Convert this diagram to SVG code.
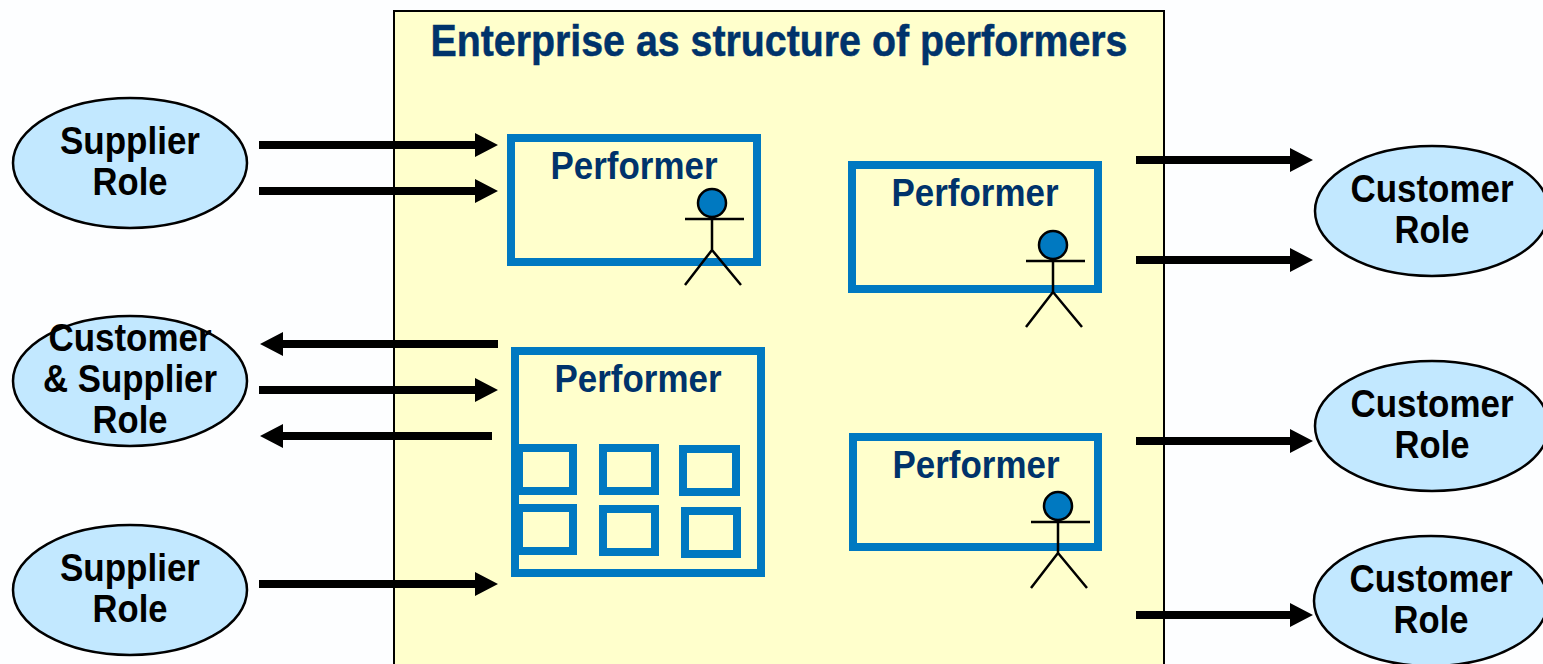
<svg xmlns="http://www.w3.org/2000/svg" width="1543" height="664" viewBox="0 0 1543 664">
<style>
.t{font-family:"Liberation Sans",Arial,sans-serif;font-weight:700;text-anchor:middle}
.role{font-size:38px;fill:#000}
.perf{font-size:38px;fill:#00336b}
.el{fill:#c2e8ff;stroke:#000;stroke-width:2.5}
.box{fill:none;stroke:#0079c1;stroke-width:8}
.sb{fill:none;stroke:#0079c1;stroke-width:8}
.arrow{fill:none;stroke:#000;stroke-width:8}
.fig{fill:none;stroke:#000;stroke-width:2.5}
.head{fill:#0079c1;stroke:#000;stroke-width:2.5}
</style>
<rect width="1543" height="664" fill="#fdfeff"/>
<g id="enterprise"><rect x="394" y="11" width="770" height="670" fill="#ffffcc" stroke="#000" stroke-width="2"/>
<text class="t" x="779" y="56" font-size="44" fill="#00336b" stroke="#00336b" stroke-width="0.5" textLength="697" lengthAdjust="spacingAndGlyphs">Enterprise as structure of performers</text></g>
<g id="connectors">
<path class="arrow" d="M259 145H476M259 191H476M498 344H282M259 390H476M492 436H282M259 584H476M1136 160H1291M1136 260H1291M1136 441H1291M1136 615H1291"/>
<path d="M498 145L475 133V157ZM498 191L475 179V203ZM260 344L283 332V356ZM498 390L475 378V402ZM260 436L283 424V448ZM498 584L475 572V596ZM1313 160L1290 148V172ZM1313 260L1290 248V272ZM1313 441L1290 429V453ZM1313 615L1290 603V627Z"/>
</g>
<g id="supplier1"><ellipse class="el" cx="130" cy="163" rx="117" ry="65"/><text class="t role" x="130" y="154" textLength="140" lengthAdjust="spacingAndGlyphs">Supplier</text><text class="t role" x="130" y="195" textLength="75" lengthAdjust="spacingAndGlyphs">Role</text></g>
<g id="custsupp"><ellipse class="el" cx="130" cy="381" rx="117" ry="65"/><text class="t role" x="130" y="351" textLength="163" lengthAdjust="spacingAndGlyphs">Customer</text><text class="t role" x="130" y="392" textLength="174" lengthAdjust="spacingAndGlyphs">&amp; Supplier</text><text class="t role" x="130" y="433" textLength="75" lengthAdjust="spacingAndGlyphs">Role</text></g>
<g id="supplier2"><ellipse class="el" cx="130" cy="590" rx="117" ry="65"/><text class="t role" x="130" y="581" textLength="140" lengthAdjust="spacingAndGlyphs">Supplier</text><text class="t role" x="130" y="622" textLength="75" lengthAdjust="spacingAndGlyphs">Role</text></g>
<g id="customer1"><ellipse class="el" cx="1432" cy="211" rx="117" ry="65"/><text class="t role" x="1432" y="202" textLength="163" lengthAdjust="spacingAndGlyphs">Customer</text><text class="t role" x="1432" y="243" textLength="75" lengthAdjust="spacingAndGlyphs">Role</text></g>
<g id="customer2"><ellipse class="el" cx="1432" cy="426" rx="117" ry="65"/><text class="t role" x="1432" y="417" textLength="163" lengthAdjust="spacingAndGlyphs">Customer</text><text class="t role" x="1432" y="458" textLength="75" lengthAdjust="spacingAndGlyphs">Role</text></g>
<g id="customer3"><ellipse class="el" cx="1431" cy="601" rx="117" ry="65"/><text class="t role" x="1431" y="592" textLength="163" lengthAdjust="spacingAndGlyphs">Customer</text><text class="t role" x="1431" y="633" textLength="75" lengthAdjust="spacingAndGlyphs">Role</text></g>
<g id="performer1"><rect class="box" x="511" y="138" width="246" height="124"/><text class="t perf" x="634" y="179" textLength="167" lengthAdjust="spacingAndGlyphs">Performer</text>
<circle class="head" cx="712" cy="203" r="14"/><path class="fig" d="M685 219H744M712 217V250M712 250L685 285M712 250L741 285"/></g>
<g id="performer2"><rect class="box" x="852" y="165" width="246" height="124"/><text class="t perf" x="975" y="206" textLength="167" lengthAdjust="spacingAndGlyphs">Performer</text>
<circle class="head" cx="1053" cy="245" r="14"/><path class="fig" d="M1026 261H1085M1053 259V292M1053 292L1026 327M1053 292L1082 327"/></g>
<g id="performer3"><rect class="box" x="515" y="351" width="246" height="222"/><text class="t perf" x="638" y="392" textLength="167" lengthAdjust="spacingAndGlyphs">Performer</text>
<rect class="sb" x="519" y="448" width="54" height="43"/><rect class="sb" x="603" y="448" width="52" height="43"/><rect class="sb" x="683" y="449" width="53" height="43"/>
<rect class="sb" x="519" y="508" width="54" height="43"/><rect class="sb" x="603" y="509" width="52" height="43"/><rect class="sb" x="685" y="511" width="52" height="43"/></g>
<g id="performer4"><rect class="box" x="853" y="437" width="245" height="110"/><text class="t perf" x="976" y="478" textLength="167" lengthAdjust="spacingAndGlyphs">Performer</text>
<circle class="head" cx="1058" cy="506" r="14"/><path class="fig" d="M1031 522H1090M1058 520V553M1058 553L1031 588M1058 553L1087 588"/></g>
</svg>
